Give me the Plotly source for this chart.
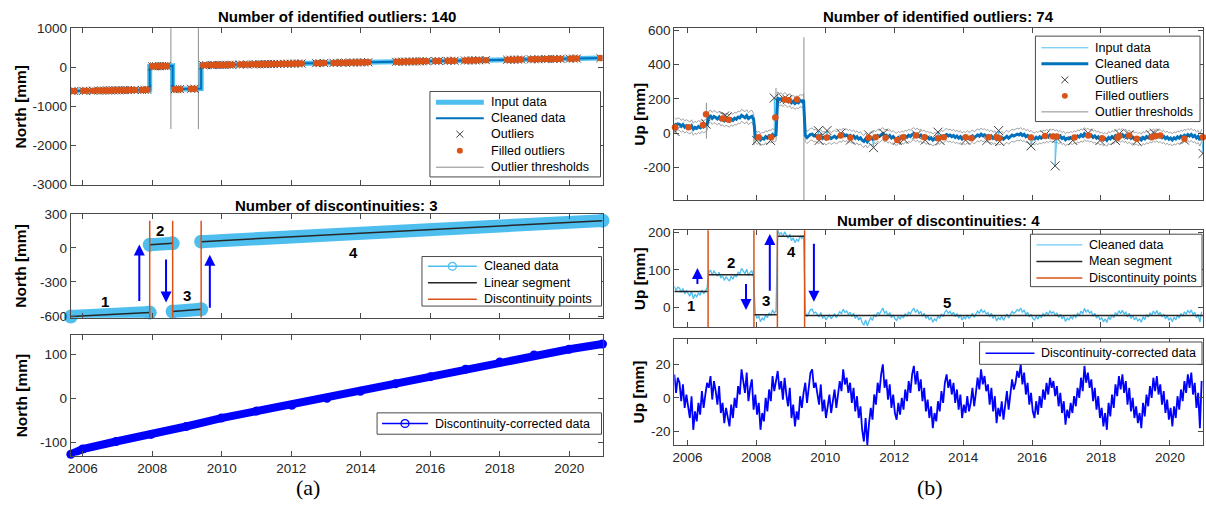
import numpy as np
import plotly.graph_objects as go

W, H = 1206, 517

# ===================== (a) North component =====================
north_xlim = [2005.66, 2020.96]
north_seg_x0 = [2005.66, 2007.93, 2008.59, 2009.41]
north_seg_x1 = [2007.93, 2008.59, 2009.41, 2020.96]
north_seg_y0 = [-605, 28, -560, 55]
north_seg_y1 = [-570, 40, -540, 240]
north_breaks = [2007.93, 2008.59, 2009.41]
north_break_lo, north_break_hi = -615, 240

north_fill_x = [2005.68, 2005.76, 2006.02, 2006.10, 2006.30, 2006.45, 2006.55, 2006.62, 2006.72, 2006.80,
                2006.88, 2006.96, 2007.05, 2007.15, 2007.22, 2007.30, 2007.38, 2007.50, 2007.70, 2007.78,
                2007.86, 2008.00, 2008.06, 2008.12, 2008.20, 2008.28, 2008.35, 2008.42, 2008.65, 2008.72,
                2008.80, 2009.12, 2009.22, 2009.47, 2009.56, 2009.72, 2009.80, 2009.88, 2009.96, 2010.05,
                2010.14, 2010.22, 2010.30, 2010.52, 2010.62, 2010.74, 2010.90, 2011.00, 2011.08, 2011.16,
                2011.25, 2011.33, 2011.42, 2011.50, 2011.60, 2011.70, 2011.80, 2011.90, 2012.00, 2012.10,
                2012.20, 2012.30, 2012.72, 2012.82, 2012.95, 2013.22, 2013.32, 2013.45, 2013.57, 2013.70,
                2013.80, 2013.90, 2014.00, 2014.10, 2014.22, 2015.02, 2015.10, 2015.20, 2015.30, 2015.40,
                2015.50, 2015.60, 2015.70, 2015.78, 2015.90, 2016.15, 2016.25, 2016.50, 2016.60, 2016.70,
                2017.00, 2017.10, 2017.20, 2017.30, 2017.42, 2017.60, 2018.22, 2018.32, 2018.42, 2018.52,
                2018.62, 2018.90, 2019.00, 2019.12, 2019.30, 2019.40, 2019.55, 2019.65, 2019.75, 2020.02,
                2020.12, 2020.22, 2020.90]
north_fill_y = [-605, -603, -599, -598, -595, -593, -591, -590, -589, -587,
                -586, -585, -584, -582, -581, -580, -578, -577, -574, -572,
                -571, 29, 30, 31, 32, 34, 35, 36, -559, -557,
                -555, -547, -545, 56, 57, 60, 61, 63, 64, 65,
                67, 68, 69, 73, 74, 76, 79, 80, 82, 83,
                84, 86, 87, 88, 90, 92, 93, 95, 96, 98,
                100, 101, 108, 110, 112, 116, 118, 120, 122, 124,
                125, 127, 129, 130, 132, 145, 146, 148, 149, 151,
                153, 154, 156, 157, 159, 163, 165, 169, 170, 172,
                177, 178, 180, 181, 183, 186, 196, 198, 199, 201,
                203, 207, 209, 211, 213, 215, 217, 219, 221, 225,
                227, 228, 239]

north_thr_x = [2008.54, 2009.33]
north_thr_lo = [-1575, -1575]
north_thr_hi = [1100, 1100]

north_corr_x = [2005.66, 2006.00, 2006.96, 2007.97, 2008.98, 2009.99, 2011.00, 2012.02, 2013.03,
                2013.99, 2015.00, 2016.01, 2017.02, 2018.00, 2018.99, 2020.00, 2020.96]
north_corr_y = [-127, -115, -98, -82, -64, -45, -29, -16, 0, 16, 33, 49, 66, 82, 98, 111, 123]

north_arrow_x = [2007.63, 2008.40, 2009.66]
north_arrow_from = [-480, -90, -540]
north_arrow_to = [30, -480, -60]
north_label_x = [2006.64, 2008.23, 2009.01, 2013.78]
north_label_y = [-470, 150, -420, -40]
north_labels = ['1', '2', '3', '4']

# ===================== (b) Up component =====================
up_xlim = [2005.62, 2020.96]
up_t0, up_dt = 2005.62, 0.05
up_corr = [
    14, 3, 12, 9, -2, 8, -6, 2, -5, -12, 1, -19, -8, -14, -3, -10, 4, -6, 2, 9,
    6, 13, -1, 10, 4, -4, 7, -9, -3, -15, -6, -11, -17, -4, -12, 0, -6, 7, 2, 17,
    9, 3, 15, -2, 6, 11, -7, 2, -10, -3, -19, -9, -14, 0, -8, 5, -2, 13, 4, 10,
    16, 5, 10, -1, 12, 2, -5, 6, -12, -4, -17, -8, -13, 1, -6, 3, 9, -3, 7, 15,
    17, 6, 9, 1, -4, 8, -8, -1, -12, -5, 2, -9, -3, 5, -6, 2, 10, 4, 17, 8,
    12, 3, 9, -3, 6, -8, 1, -12, -5, -19, -26, -12, -28, -15, -6, -13, 2, -4, 9, 3,
    14, 20, 6, 11, -1, 8, -6, 2, -9, -13, -3, -10, 0, -7, 5, -2, 10, 3, 14, 19,
    8, 16, 4, 11, -2, 6, -8, -1, -12, -5, -18, -9, -14, -2, -8, 4, -3, 9, 14, 6,
    11, 2, 9, -3, 5, -7, 2, -12, -4, -9, 1, -8, -3, 6, -5, 3, 12, 5, 17, 8,
    13, 4, 8, -4, 6, -8, 1, -15, -6, -11, -2, -13, -4, 4, -7, 2, 11, 5, 9, 16,
    12, 20, 8, 15, 2, 9, -4, 3, -8, -12, -2, -10, 1, -6, 5, -1, 9, 2, 12, 6,
    10, 1, 7, -5, 3, -9, -2, -16, -7, -12, -3, -9, 1, -5, 6, 0, 12, 4, 19, 9,
    15, 6, 11, -2, 6, -7, 1, -12, -6, -17, -9, -19, -3, -11, 2, -6, 8, 1, 13, 5,
    14, 3, 10, -4, 6, -8, 0, -12, -5, -15, -9, -18, -3, -11, 2, -5, 7, 0, 12, 4,
    13, 2, 8, -4, 4, -9, -1, -13, -6, -17, -5, -12, 1, -7, 5, -2, 10, 3, 14, 6,
    15, 2, 9, -6, 3, -18, 10]
up_breaks = [2006.60, 2007.93, 2008.61, 2009.40]
up_seg_means = [42, 87, -20, 190, -22]
up_thr_halfwidth = 35
up_thr_x = [2006.55, 2007.93, 2008.57, 2009.38]
up_thr_lo = [-32, -70, -15, -400]
up_thr_hi = [177, 91, 263, 558]

up_out_x = [2005.64, 2006.54, 2007.08, 2007.15, 2008.01, 2008.41, 2008.52, 2008.80, 2008.90, 2009.80,
            2009.82, 2010.05, 2010.45, 2010.73, 2011.26, 2011.40, 2011.69, 2012.09, 2012.28, 2012.65,
            2012.90, 2013.27, 2013.33, 2014.07, 2014.69, 2015.03, 2015.06, 2015.97, 2016.38, 2016.67,
            2016.72, 2017.18, 2017.63, 2017.97, 2018.42, 2018.53, 2018.82, 2019.04, 2019.44, 2019.55,
            2020.42, 2020.96]
up_out_y = [10, 53, 100, 95, -42, -42, 205, 200, 195, 15,
            -42, 15, 0, -40, -10, -84, 0, -42, -35, -10,
            -40, 6, -42, -40, -42, 15, -48, -74, -10, -190,
            -30, -42, 0, -42, -42, -4, -10, -45, -10, 0,
            -40, -118]
up_fill_x = [2005.64, 2006.03, 2006.45, 2006.54, 2007.02, 2007.20, 2008.07, 2008.43, 2008.55, 2008.83,
             2008.94, 2009.18, 2009.82, 2010.05, 2010.45, 2010.73, 2011.26, 2011.46, 2011.75, 2012.09,
             2012.26, 2012.63, 2012.88, 2013.27, 2013.44, 2014.07, 2014.24, 2014.75, 2014.97, 2015.05,
             2015.97, 2016.38, 2016.61, 2016.72, 2017.23, 2017.63, 2018.03, 2018.48, 2018.53, 2018.82,
             2019.04, 2019.47, 2019.59, 2019.72, 2020.42, 2020.96]
up_fill_y = [34, 34, 48, 110, 86, 78, -23, -23, 91, 196,
             192, 196, -23, -25, -13, -27, -27, -23, -27, -40,
             -23, -13, -23, -29, -23, -23, -29, -23, -23, -29,
             -25, -17, -19, -19, -25, -13, -29, -27, -17, -13,
             -32, -23, -17, -13, -32, -23]

up_arrow_x = [2006.29, 2007.70, 2008.39, 2009.67]
up_arrow_from = [58, 66, 40, 174]
up_arrow_to = [105, -7, 196, 15]
up_label_x = [2006.11, 2007.25, 2008.27, 2009.03, 2013.53]
up_label_y = [6, 120, 17, 148, 12]
up_labels = ['1', '2', '3', '4', '5']

year_ticks = [2006, 2008, 2010, 2012, 2014, 2016, 2018, 2020]

# ---------------- colours / fonts ----------------
C_CYAN = '#4DBEEE'
C_BLUE = '#0072BD'
C_ORANGE = '#D95319'
C_GRAY = '#8c8c8c'
C_XMARK = '#404040'
C_PURE = '#0000FF'
C_AX = '#262626'
C_LINE = '#4a4a4a'
FONT = 'Liberation Sans, Arial, Helvetica, sans-serif'
SERIF = 'Liberation Serif, DejaVu Serif, serif'

# ---------------- layout geometry (pixels) ----------------
LX = (68, 601)
RX = (673, 1203)
LROWS = [(22, 183), (213, 320), (338, 462)]
RROWS = [(22, 199), (230, 330), (342, 451)]


def xdom(px):
    return [px[0] / W, px[1] / W]


def ydom(py):
    return [1 - py[1] / H, 1 - py[0] / H]


fig = go.Figure()

# ---------- derived arrays ----------
up_corr_a = np.array(up_corr, dtype=float)
up_x = up_t0 + up_dt * np.arange(len(up_corr_a))
seg_idx = np.searchsorted(up_breaks, up_x)
up_clean = up_corr_a + np.array(up_seg_means)[seg_idx]

# ============ Left row 1 ============
step_x, step_y = [], []
for a, b, c, d in zip(north_seg_x0, north_seg_x1, north_seg_y0, north_seg_y1):
    step_x += [a, b]
    step_y += [c, d]

thr_x, thr_y = [], []
for x, lo, hi in zip(north_thr_x, north_thr_lo, north_thr_hi):
    thr_x += [x, x, None]
    thr_y += [lo, hi, None]

fig.add_trace(go.Scatter(x=thr_x, y=thr_y, mode='lines', line=dict(color=C_GRAY, width=1),
                         xaxis='x', yaxis='y'))
fig.add_trace(go.Scatter(x=step_x, y=step_y, mode='lines', line=dict(color=C_CYAN, width=5),
                         xaxis='x', yaxis='y'))
fig.add_trace(go.Scatter(x=step_x, y=step_y, mode='lines', line=dict(color=C_BLUE, width=2),
                         xaxis='x', yaxis='y'))
fig.add_trace(go.Scatter(x=north_fill_x, y=north_fill_y, mode='markers',
                         marker=dict(symbol='x-thin', size=8, line=dict(color=C_XMARK, width=1)),
                         xaxis='x', yaxis='y'))
fig.add_trace(go.Scatter(x=north_fill_x, y=north_fill_y, mode='markers',
                         marker=dict(color=C_ORANGE, size=6.5),
                         xaxis='x', yaxis='y'))

# ============ Left row 2 ============
band_x, band_y = [], []
for a, b, c, d in zip(north_seg_x0, north_seg_x1, north_seg_y0, north_seg_y1):
    band_x += [a, b, None]
    band_y += [c, d, None]
brk_x, brk_y = [], []
for x in north_breaks:
    brk_x += [x, x, None]
    brk_y += [north_break_lo, north_break_hi, None]

fig.add_trace(go.Scatter(x=band_x, y=band_y, mode='lines+markers', line=dict(color=C_CYAN, width=13),
                         marker=dict(color=C_CYAN, size=14), cliponaxis=False,
                         xaxis='x2', yaxis='y2'))
fig.add_trace(go.Scatter(x=band_x, y=band_y, mode='lines', line=dict(color=C_AX, width=1.5),
                         xaxis='x2', yaxis='y2'))
fig.add_trace(go.Scatter(x=brk_x, y=brk_y, mode='lines', line=dict(color=C_ORANGE, width=1.5),
                         xaxis='x2', yaxis='y2'))

# ============ Left row 3 ============
fig.add_trace(go.Scatter(x=north_corr_x, y=north_corr_y, mode='lines+markers',
                         line=dict(color=C_PURE, width=8), marker=dict(color=C_PURE, size=9),
                         cliponaxis=False, xaxis='x3', yaxis='y3'))

# ============ Right row 1 ============
up_hi = up_clean + up_thr_halfwidth
up_lo = up_clean - up_thr_halfwidth
fig.add_trace(go.Scatter(x=up_x, y=up_hi, mode='lines', line=dict(color=C_GRAY, width=0.8),
                         xaxis='x4', yaxis='y4'))
fig.add_trace(go.Scatter(x=up_x, y=up_lo, mode='lines', line=dict(color=C_GRAY, width=0.8),
                         xaxis='x4', yaxis='y4'))
uthr_x, uthr_y = [], []
for x, lo, hi in zip(up_thr_x, up_thr_lo, up_thr_hi):
    uthr_x += [x, x, None]
    uthr_y += [lo, hi, None]
fig.add_trace(go.Scatter(x=uthr_x, y=uthr_y, mode='lines', line=dict(color=C_GRAY, width=1),
                         xaxis='x4', yaxis='y4'))
in_x = np.concatenate([up_x, up_out_x])
in_y = np.concatenate([up_clean, up_out_y])
order = np.argsort(in_x, kind='stable')
fig.add_trace(go.Scatter(x=in_x[order], y=in_y[order], mode='lines', line=dict(color=C_CYAN, width=1),
                         xaxis='x4', yaxis='y4'))
fig.add_trace(go.Scatter(x=up_x, y=up_clean, mode='lines', line=dict(color=C_BLUE, width=3),
                         xaxis='x4', yaxis='y4'))
fig.add_trace(go.Scatter(x=up_out_x, y=up_out_y, mode='markers',
                         marker=dict(symbol='x-thin', size=9, line=dict(color=C_XMARK, width=1)),
                         xaxis='x4', yaxis='y4'))
fig.add_trace(go.Scatter(x=up_fill_x, y=up_fill_y, mode='markers', marker=dict(color=C_ORANGE, size=6.5),
                         cliponaxis=False, xaxis='x4', yaxis='y4'))

# ============ Right row 2 ============
bounds = [up_xlim[0]] + up_breaks + [up_xlim[1]]
mean_x, mean_y = [], []
for i, m in enumerate(up_seg_means):
    mean_x += [bounds[i], bounds[i + 1], None]
    mean_y += [m, m, None]
ubrk_x, ubrk_y = [], []
for x in up_breaks:
    ubrk_x += [x, x, None]
    ubrk_y += [-60, 215, None]
fig.add_trace(go.Scatter(x=up_x, y=up_clean, mode='lines', line=dict(color=C_CYAN, width=1.3),
                         xaxis='x5', yaxis='y5'))
fig.add_trace(go.Scatter(x=mean_x, y=mean_y, mode='lines', line=dict(color=C_AX, width=1.5),
                         xaxis='x5', yaxis='y5'))
fig.add_trace(go.Scatter(x=ubrk_x, y=ubrk_y, mode='lines', line=dict(color=C_ORANGE, width=1.5),
                         xaxis='x5', yaxis='y5'))

# ============ Right row 3 ============
fig.add_trace(go.Scatter(x=up_x, y=up_corr_a, mode='lines', line=dict(color=C_PURE, width=1.8),
                         xaxis='x6', yaxis='y6'))


# ---------------- axes ----------------
def xaxis_cfg(px, anchor, xr, labels):
    return dict(domain=xdom(px), anchor=anchor, range=xr, tickvals=year_ticks,
                ticktext=[str(v) for v in year_ticks],
                showticklabels=labels, ticks='inside', ticklen=5, tickcolor=C_LINE,
                showline=True, linecolor=C_LINE, linewidth=1, mirror='ticks',
                showgrid=False, zeroline=False,
                tickfont=dict(family=FONT, size=13.5, color=C_AX))


def yaxis_cfg(py, anchor, yr, tv):
    return dict(domain=ydom(py), anchor=anchor, range=yr, tickvals=tv,
                ticktext=[str(v) for v in tv],
                ticks='inside', ticklen=5, tickcolor=C_LINE,
                showline=True, linecolor=C_LINE, linewidth=1, mirror='ticks',
                showgrid=False, zeroline=False,
                tickfont=dict(family=FONT, size=13.5, color=C_AX))


fig.update_traces(showlegend=False, hoverinfo='skip')
fig.update_layout(
    width=W, height=H, margin=dict(l=0, r=0, t=0, b=0),
    paper_bgcolor='white', plot_bgcolor='white', showlegend=False,
    font=dict(family=FONT, color=C_AX),
    xaxis=xaxis_cfg(LX, 'y', north_xlim, False),
    yaxis=yaxis_cfg(LROWS[0], 'x', [-3000, 1000], [-3000, -2000, -1000, 0, 1000]),
    xaxis2=xaxis_cfg(LX, 'y2', north_xlim, False),
    yaxis2=yaxis_cfg(LROWS[1], 'x2', [-615, 300], [-600, -300, 0, 300]),
    xaxis3=xaxis_cfg(LX, 'y3', north_xlim, True),
    yaxis3=yaxis_cfg(LROWS[2], 'x3', [-130, 143], [-100, 0, 100]),
    xaxis4=xaxis_cfg(RX, 'y4', up_xlim, False),
    yaxis4=yaxis_cfg(RROWS[0], 'x4', [-390, 610], [-200, 0, 200, 400, 600]),
    xaxis5=xaxis_cfg(RX, 'y5', up_xlim, False),
    yaxis5=yaxis_cfg(RROWS[1], 'x5', [-54, 206], [0, 100, 200]),
    xaxis6=xaxis_cfg(RX, 'y6', up_xlim, True),
    yaxis6=yaxis_cfg(RROWS[2], 'x6', [-28, 35], [-20, 0, 20]),
)

# ---------------- annotations & legend boxes ----------------
ann = []
shapes = []


def ptext(text, xp, yp, size=13, bold=True, angle=0, family=FONT, color='#000000', anchor='center'):
    ann.append(dict(text=('<b>%s</b>' % text) if bold else text, x=xp / W, y=1 - yp / H,
                    xref='paper', yref='paper', showarrow=False, xanchor=anchor, yanchor='middle',
                    textangle=angle, font=dict(family=family, size=size, color=color)))


def pline(x0, y0, x1, y1, color, width):
    shapes.append(dict(type='line', xref='paper', yref='paper', x0=x0 / W, x1=x1 / W,
                       y0=1 - y0 / H, y1=1 - y1 / H, line=dict(color=color, width=width)))


def pcircle(cx, cy, r, color, fill):
    shapes.append(dict(type='circle', xref='paper', yref='paper', x0=(cx - r) / W, x1=(cx + r) / W,
                       y0=1 - (cy + r) / H, y1=1 - (cy - r) / H,
                       line=dict(color=color, width=1.3 if fill is None else 0),
                       fillcolor=fill if fill is not None else 'rgba(0,0,0,0)'))


def pbox(x0, y0, x1, y1):
    shapes.append(dict(type='rect', xref='paper', yref='paper', x0=x0 / W, x1=x1 / W,
                       y0=1 - y1 / H, y1=1 - y0 / H, line=dict(color=C_LINE, width=1),
                       fillcolor='white'))


legend_specs = [
    dict(box=(428, 87, 599, 175), sym=(434, 482), tx=487, rows=[98, 114.5, 131, 148, 165],
         items=[('line', C_CYAN, 5, 'Input data'), ('line', C_BLUE, 2, 'Cleaned data'),
                ('x', C_XMARK, 1, 'Outliers'), ('dot', C_ORANGE, 0, 'Filled outliers'),
                ('line', C_GRAY, 1, 'Outlier thresholds')]),
    dict(box=(420, 257, 600, 308), sym=(426, 475), tx=480, rows=[267, 284, 301],
         items=[('lineo', C_CYAN, 1.5, 'Cleaned data'), ('line', C_AX, 1.5, 'Linear segment'),
                ('line', C_ORANGE, 1.5, 'Discontinuity points')]),
    dict(box=(375, 418, 600, 440), sym=(380, 426), tx=431, rows=[429],
         items=[('lineo', C_PURE, 1.5, 'Discontinuity-corrected data')]),
    dict(box=(1035, 30, 1200, 118), sym=(1041, 1088), tx=1093, rows=[42, 58.5, 75, 91.5, 108],
         items=[('line', C_CYAN, 1, 'Input data'), ('line', C_BLUE, 3, 'Cleaned data'),
                ('x', C_XMARK, 1, 'Outliers'), ('dot', C_ORANGE, 0, 'Filled outliers'),
                ('line', C_GRAY, 1, 'Outlier thresholds')]),
    dict(box=(1030, 234, 1202, 288), sym=(1036, 1082), tx=1087, rows=[245, 262, 279],
         items=[('line', C_CYAN, 1, 'Cleaned data'), ('line', C_AX, 1.5, 'Mean segment'),
                ('line', C_ORANGE, 1.5, 'Discontinuity points')]),
    dict(box=(979, 345, 1202, 368), sym=(985, 1034), tx=1039, rows=[356.5],
         items=[('line', C_PURE, 1.5, 'Discontinuity-corrected data')]),
]

for spec in legend_specs:
    pbox(*spec['box'])
    s0, s1 = spec['sym']
    mid = (s0 + s1) / 2
    for (kind, col, wdt, label), yy in zip(spec['items'], spec['rows']):
        if kind == 'line':
            pline(s0, yy, s1, yy, col, wdt)
        elif kind == 'lineo':
            pline(s0, yy, s1, yy, col, wdt)
            pcircle(mid, yy, 4, col, None)
        elif kind == 'x':
            pline(mid - 3.5, yy - 3.5, mid + 3.5, yy + 3.5, col, 1)
            pline(mid - 3.5, yy + 3.5, mid + 3.5, yy - 3.5, col, 1)
        elif kind == 'dot':
            pcircle(mid, yy, 3, col, col)
        ptext(label, spec['tx'], yy, size=12.5, bold=False, anchor='left')

ptext('Number of identified outliers: 140', (LX[0] + LX[1]) / 2, 10, size=15)
ptext('Number of discontinuities: 3', (LX[0] + LX[1]) / 2, 204, size=15)
ptext('Number of identified outliers: 74', (RX[0] + RX[1]) / 2, 10, size=15)
ptext('Number of discontinuities: 4', (RX[0] + RX[1]) / 2, 220, size=15)
for r in LROWS:
    ptext('North [mm]', 18, (r[0] + r[1]) / 2, size=15.5, angle=-90)
for r in RROWS:
    ptext('Up [mm]', 638, (r[0] + r[1]) / 2, size=15.5, angle=-90)
ptext('(a)', 306, 495, size=22, bold=False, family=SERIF)
ptext('(b)', 929, 495, size=22, bold=False, family=SERIF)

for x, y, t in zip(north_label_x, north_label_y, north_labels):
    ann.append(dict(text='<b>%s</b>' % t, x=x, y=y, xref='x2', yref='y2', showarrow=False,
                    font=dict(family=FONT, size=15, color='#000000')))
for x, y, t in zip(up_label_x, up_label_y, up_labels):
    ann.append(dict(text='<b>%s</b>' % t, x=x, y=y, xref='x5', yref='y5', showarrow=False,
                    font=dict(family=FONT, size=15, color='#000000')))

for x, a, b in zip(north_arrow_x, north_arrow_from, north_arrow_to):
    ann.append(dict(text='', x=x, y=b, ax=x, ay=a, xref='x2', yref='y2', axref='x2', ayref='y2',
                    showarrow=True, arrowhead=2, arrowsize=1.1, arrowwidth=2, arrowcolor=C_PURE,
                    standoff=0, startstandoff=0))
for x, a, b in zip(up_arrow_x, up_arrow_from, up_arrow_to):
    ann.append(dict(text='', x=x, y=b, ax=x, ay=a, xref='x5', yref='y5', axref='x5', ayref='y5',
                    showarrow=True, arrowhead=2, arrowsize=1.1, arrowwidth=2, arrowcolor=C_PURE,
                    standoff=0, startstandoff=0))

fig.update_layout(annotations=ann, shapes=shapes)
fig.write_html('out.html', config={'displayModeBar': False, 'staticPlot': True},
               post_script="document.body.style.margin='0px';document.body.style.overflow='hidden';")
